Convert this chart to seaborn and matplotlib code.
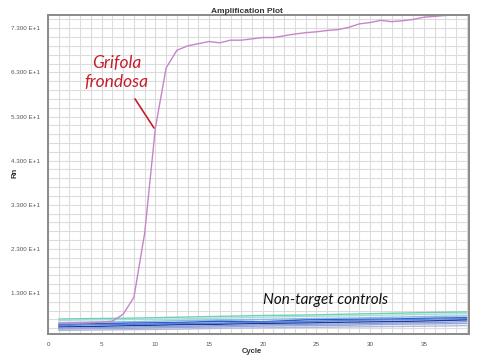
import pandas as pd
import numpy as np
import matplotlib.pyplot as plt
import seaborn as sns

# Grifola frondosa amplification curve (Rn per cycle)
cycles = list(range(1, 40))
grifola_rn = [6.0, 6.1, 6.2, 6.3, 6.4, 6.6, 8.2, 12.0, 26.5, 50.4,
              64.0, 68.0, 69.0, 69.5, 70.0, 69.7, 70.3, 70.3, 70.6, 70.9,
              70.9, 71.3, 71.7, 72.0, 72.2, 72.5, 72.7, 73.2, 74.0, 74.3,
              74.8, 74.5, 74.7, 75.0, 75.5, 75.7, 75.9, 76.0, 76.0]

# non-target controls, read at a subset of cycles
ctrl_cycles = [1, 4, 8, 12, 16, 20, 24, 28, 32, 36, 39]
ctrl_teal = [7.1, 7.2, 7.3, 7.5, 7.7, 7.9, 8.0, 8.2, 8.4, 8.6, 8.7]
ctrl_aqua = [6.8, 6.9, 7.0, 7.1, 7.3, 7.5, 7.7, 7.8, 8.0, 8.2, 8.3]
ctrl_sky = [6.3, 6.4, 6.5, 6.7, 6.9, 7.0, 7.2, 7.3, 7.5, 7.7, 7.8]
ctrl_blue = [5.9, 6.0, 6.2, 6.3, 6.6, 6.5, 6.9, 7.0, 7.1, 7.3, 7.4]
ctrl_royal = [5.6, 5.8, 5.9, 6.1, 6.2, 6.4, 6.5, 6.8, 6.9, 7.1, 7.2]
ctrl_navy = [5.3, 5.4, 5.6, 5.8, 5.9, 6.1, 6.2, 6.4, 6.5, 6.7, 6.9]
ctrl_steel = [5.0, 5.1, 5.3, 5.4, 5.6, 5.8, 5.9, 6.0, 6.2, 6.3, 6.5]
ctrl_lav = [4.8, 4.9, 5.0, 5.2, 5.3, 5.5, 5.6, 5.7, 5.9, 6.0, 6.1]
ctrl_grey = [4.5, 4.6, 4.7, 4.8, 5.0, 5.1, 5.2, 5.3, 5.4, 5.5, 5.6]

y_ticks = [13, 23, 33, 43, 53, 63, 73]
y_tick_labels = ['1.300 E+1', '2.300 E+1', '3.300 E+1', '4.300 E+1',
                 '5.300 E+1', '6.300 E+1', '7.300 E+1']
x_ticks = [0, 5, 10, 15, 20, 25, 30, 35]

controls = {
    'teal': ctrl_teal, 'aqua': ctrl_aqua, 'sky': ctrl_sky, 'blue': ctrl_blue,
    'royal': ctrl_royal, 'navy': ctrl_navy, 'steel': ctrl_steel,
    'lav': ctrl_lav, 'grey': ctrl_grey,
}
ctrl_colors = {
    'teal': '#6fcfb4', 'aqua': '#a6dcd8', 'sky': '#8ab8e6', 'blue': '#2a5cc8',
    'royal': '#5a86dc', 'navy': '#1a3aa0', 'steel': '#7fa2d0',
    'lav': '#a0a0e2', 'grey': '#b0bcd6',
}
rows = []
for name, vals in controls.items():
    for c, v in zip(ctrl_cycles, vals):
        rows.append({'cycle': c, 'rn': v, 'well': name})
ctrl_df = pd.DataFrame(rows)
grif_df = pd.DataFrame({'cycle': cycles, 'rn': grifola_rn})

sns.set_style('white')
plt.rcParams['font.family'] = ['Liberation Sans', 'DejaVu Sans']

fig = plt.figure(figsize=(4.81, 3.58), dpi=100)
ax = fig.add_axes([0.0998, 0.067, 0.875, 0.891])

sns.lineplot(data=ctrl_df, x='cycle', y='rn', hue='well', palette=ctrl_colors,
             linewidth=1.0, legend=False, ax=ax, estimator=None)
sns.lineplot(data=grif_df, x='cycle', y='rn', color='#c884c8', linewidth=1.0,
             ax=ax, estimator=None)

ax.set_xlim(0, 39.2)
ax.set_ylim(3.7, 76.0)
ax.set_xticks(x_ticks)
ax.set_xticklabels([str(t) for t in x_ticks])
ax.set_yticks(y_ticks)
ax.set_yticklabels(y_tick_labels)
ax.set_xticks(np.arange(0, 40, 1), minor=True)
ax.set_yticks(np.arange(5, 77, 2), minor=True)
ax.grid(which='both', color='#dcdcdc', linewidth=0.8)
ax.set_axisbelow(True)
ax.tick_params(which='both', length=0)
ax.tick_params(axis='both', labelsize=4.5, labelcolor='#555555', pad=6)
for s in ax.spines.values():
    s.set_color('#8a8a8a')
    s.set_linewidth(1.4)

ax.set_xlabel('')
ax.set_ylabel('')
fig.text(0.514, 0.967, 'Amplification Plot', ha='center', va='center',
         fontsize=6, fontweight='bold', color='#333333')
fig.text(0.524, 0.018, 'Cycle', ha='center', va='center',
         fontsize=5.5, fontweight='bold', color='#333333')
fig.text(0.031, 0.517, 'Rn', ha='center', va='center', rotation=90,
         fontsize=5.5, fontweight='bold', color='#333333')

ax.text(6.4, 62.9, 'Grifola\nfrondosa', ha='center', va='center',
        fontsize=12.5, style='italic', family=['Lato', 'DejaVu Sans'],
        color='#c4202a', linespacing=1.25)
ax.annotate('', xy=(9.87, 50.4), xytext=(8.1, 57.0),
            arrowprops=dict(arrowstyle='-', color='#c4202a', lw=1.2,
                            shrinkA=0, shrinkB=0))
ax.text(20.0, 11.4, 'Non-target controls', ha='left', va='center',
        fontsize=11, style='italic', family=['Lato', 'DejaVu Sans'],
        color='#111111')

fig.savefig('out.png', dpi=100)
